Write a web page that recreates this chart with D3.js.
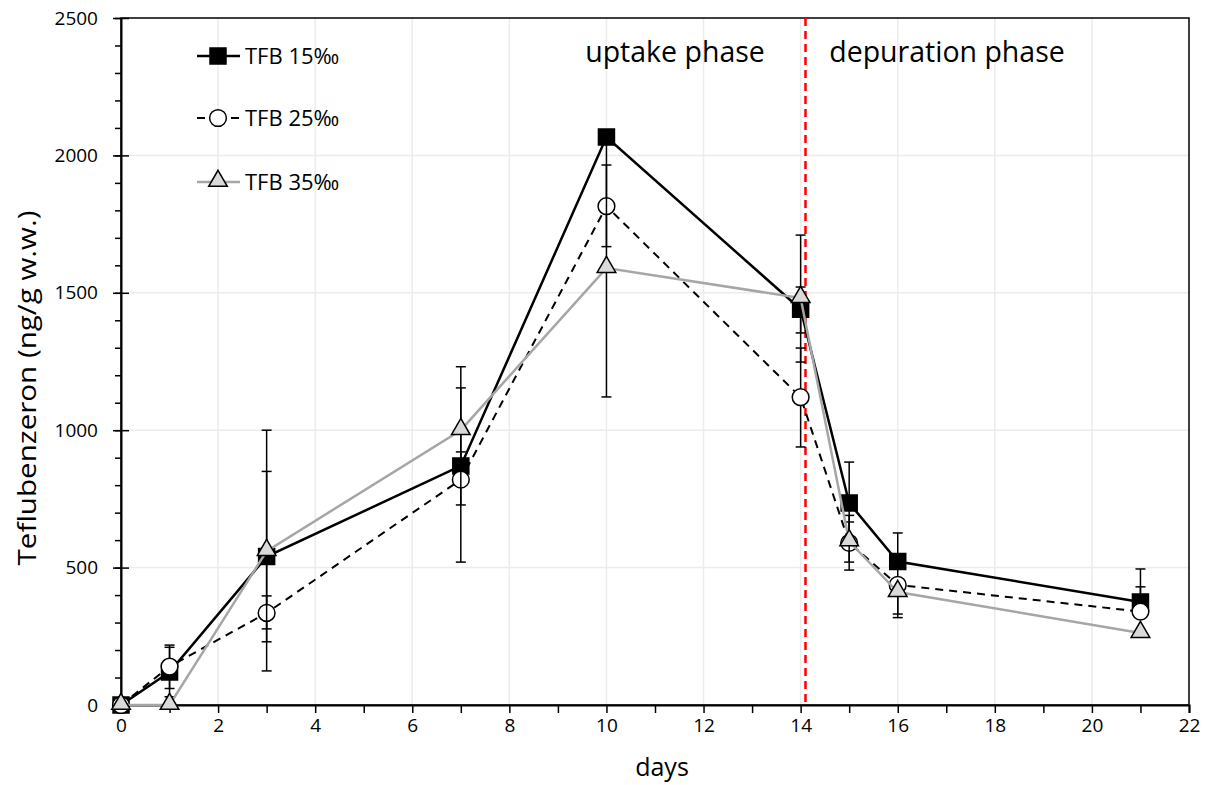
<!DOCTYPE html>
<html>
<head>
<meta charset="utf-8">
<script src="https://cdn.jsdelivr.net/npm/d3@7"></script>
<style>
  body { margin: 0; background: #fff; }
  svg text { font-family: 'Open Sans', 'Noto Sans', sans-serif; fill: #000; }
</style>
</head>
<body>
<svg id="canvas"></svg>
<script>
const days = [0, 1, 3, 7, 10, 14, 15, 16, 21];

const tfb15 = [0, 120, 540, 870, 2067, 1440, 735, 522, 375];
const tfb15Hi = [0, 210, 850, 921, 2067, 1710, 884, 626, 495];
const tfb15Lo = [0, 30, 230, 820, 2067, 1248, 585, 415, 375];

const tfb25 = [0, 140, 335, 820, 1815, 1120, 590, 437, 340];
const tfb25Hi = [0, 218, 397, 1154, 1965, 1299, 690, 437, 430];
const tfb25Lo = [0, 60, 277, 520, 1668, 939, 491, 331, 340];

const tfb35 = [0, 0, 560, 1000, 1590, 1481, 595, 411, 262];
const tfb35Hi = [0, 0, 1000, 1231, 2060, 1521, 666, 411, 262];
const tfb35Lo = [0, 0, 124, 728, 1121, 1354, 520, 318, 262];

const seriesNames = ['TFB 15‰', 'TFB 25‰', 'TFB 35‰'];
const xTicks = d3.range(0, 23, 2);
const yTicks = d3.range(0, 2501, 500);
const switchDay = 14.1;

const width = 1211;
const height = 785;
const margin = { left: 121, right: 22, top: 18, bottom: 80 };

const svg = d3.select('#canvas')
    .attr('width', width)
    .attr('height', height);

const xScale = d3.scaleLinear()
    .domain([0, 22])
    .range([margin.left, width - margin.right]);

const yScale = d3.scaleLinear()
    .domain([0, 2500])
    .range([height - margin.bottom, margin.top]);

// gridlines
svg.append('g')
    .selectAll('line')
    .data(xTicks.slice(1, -1))
    .enter()
    .append('line')
    .attr('x1', d => xScale(d)).attr('x2', d => xScale(d))
    .attr('y1', yScale(0)).attr('y2', yScale(2500))
    .attr('stroke', '#ececec').attr('stroke-width', 1.5);

svg.append('g')
    .selectAll('line')
    .data(yTicks.slice(1, -1))
    .enter()
    .append('line')
    .attr('x1', xScale(0)).attr('x2', xScale(22))
    .attr('y1', d => yScale(d)).attr('y2', d => yScale(d))
    .attr('stroke', '#ececec').attr('stroke-width', 1.5);

// frame
svg.append('rect')
    .attr('x', xScale(0)).attr('y', yScale(2500))
    .attr('width', xScale(22) - xScale(0))
    .attr('height', yScale(0) - yScale(2500))
    .attr('fill', 'none').attr('stroke', '#000').attr('stroke-width', 1.5);

// axes
const xAxis = d3.axisBottom(xScale)
    .tickValues(d3.range(0, 23, 1))
    .tickSize(8)
    .tickFormat(d => d % 2 === 0 ? d : '');

const gx = svg.append('g')
    .attr('transform', 'translate(0,' + yScale(0) + ')')
    .call(xAxis);
gx.select('.domain').attr('stroke-width', 2);
gx.selectAll('.tick line').attr('stroke-width', 1.5);
gx.selectAll('.tick text')
    .attr('y', 14)
    .style('font-size', '19px');

const yAxisMinor = d3.axisLeft(yScale)
    .tickValues(d3.range(0, 2501, 100))
    .tickSize(6)
    .tickFormat('');
const gyMinor = svg.append('g')
    .attr('transform', 'translate(' + xScale(0) + ',0)')
    .call(yAxisMinor);
gyMinor.select('.domain').remove();
gyMinor.selectAll('.tick line').attr('stroke-width', 1.5);

const yAxis = d3.axisLeft(yScale)
    .tickValues(yTicks)
    .tickSizeInner(8)
    .tickSizeOuter(0)
    .tickPadding(15)
    .tickFormat(d3.format('d'));
const gy = svg.append('g')
    .attr('transform', 'translate(' + xScale(0) + ',0)')
    .call(yAxis);
gy.select('.domain').attr('stroke-width', 2);
gy.selectAll('.tick line').attr('x2', 8).attr('x1', -8).attr('stroke-width', 1.5);
gy.selectAll('.tick text').style('font-size', '19px');

// axis titles
svg.append('text')
    .attr('x', 662).attr('y', 776)
    .attr('text-anchor', 'middle')
    .style('font-size', '25px')
    .text('days');

svg.append('text')
    .attr('transform', 'translate(36,' + 388 + ') rotate(-90)')
    .attr('text-anchor', 'middle')
    .attr('textLength', 355)
    .attr('lengthAdjust', 'spacingAndGlyphs')
    .style('font-size', '25px')
    .text('Teflubenzeron (ng/g w.w.)');

// phase divider
svg.append('line')
    .attr('x1', xScale(switchDay)).attr('x2', xScale(switchDay))
    .attr('y1', yScale(2500)).attr('y2', yScale(0))
    .attr('stroke', '#ff0000').attr('stroke-width', 2.5)
    .attr('stroke-dasharray', '8,5');

svg.append('text')
    .attr('x', 675).attr('y', 62)
    .attr('text-anchor', 'middle')
    .style('font-size', '28.5px')
    .text('uptake phase');

svg.append('text')
    .attr('x', 947).attr('y', 62)
    .attr('text-anchor', 'middle')
    .style('font-size', '28.5px')
    .text('depuration phase');

// series
const series = [
    { name: seriesNames[0], v: tfb15, hi: tfb15Hi, lo: tfb15Lo, stroke: '#000', dash: null, width: 2.5, shape: 'square', fill: '#000' },
    { name: seriesNames[1], v: tfb25, hi: tfb25Hi, lo: tfb25Lo, stroke: '#000', dash: '8,6', width: 2, shape: 'circle', fill: '#fff' },
    { name: seriesNames[2], v: tfb35, hi: tfb35Hi, lo: tfb35Lo, stroke: '#a6a6a6', dash: null, width: 2.5, shape: 'triangle', fill: '#d9d9d9' }
];

const line = d3.line()
    .x((d, i) => xScale(days[i]))
    .y(d => yScale(d));

const symbolFor = {
    square: d3.symbol().type(d3.symbolSquare).size(256),
    circle: d3.symbol().type(d3.symbolCircle).size(220),
    triangle: d3.symbol().type(d3.symbolTriangle).size(150)
};

const drawMarker = (g, s, x, y) => {
    g.append('path')
        .attr('d', symbolFor[s.shape]())
        .attr('transform', 'translate(' + x + ',' + y + ')' + (s.shape === 'triangle' ? ' translate(0,-1)' : ''))
        .attr('fill', s.fill)
        .attr('stroke', '#000')
        .attr('stroke-width', 1.5);
};

series.forEach(s => {
    const g = svg.append('g');

    // error bars
    days.forEach((d, i) => {
        if (s.hi[i] === s.lo[i]) return;
        const x = xScale(d);
        g.append('line')
            .attr('x1', x).attr('x2', x)
            .attr('y1', yScale(s.hi[i])).attr('y2', yScale(s.lo[i]))
            .attr('stroke', '#000').attr('stroke-width', 1.5);
        [s.hi[i], s.lo[i]].forEach(e => {
            if (e === s.v[i]) return;
            g.append('line')
                .attr('x1', x - 5).attr('x2', x + 5)
                .attr('y1', yScale(e)).attr('y2', yScale(e))
                .attr('stroke', '#000').attr('stroke-width', 1.5);
        });
    });

    g.append('path')
        .datum(s.v)
        .attr('d', line)
        .attr('fill', 'none')
        .attr('stroke', s.stroke)
        .attr('stroke-width', s.width)
        .attr('stroke-dasharray', s.dash);

    days.forEach((d, i) => drawMarker(g, s, xScale(d), yScale(s.v[i])));
});

// legend
const legendY = [56, 118, 182];
series.forEach((s, i) => {
    const g = svg.append('g');
    const y = legendY[i];
    if (s.dash) {
        [[197, 205], [231, 239]].forEach(p => {
            g.append('line')
                .attr('x1', p[0]).attr('x2', p[1]).attr('y1', y).attr('y2', y)
                .attr('stroke', s.stroke).attr('stroke-width', s.width);
        });
    } else {
        g.append('line')
            .attr('x1', 197).attr('x2', 240).attr('y1', y).attr('y2', y)
            .attr('stroke', s.stroke).attr('stroke-width', s.width);
    }
    drawMarker(g, s, 218, y);
    g.append('text')
        .attr('x', 245).attr('y', y + 8)
        .style('font-size', '22px')
        .text(s.name);
});
</script>
</body>
</html>
